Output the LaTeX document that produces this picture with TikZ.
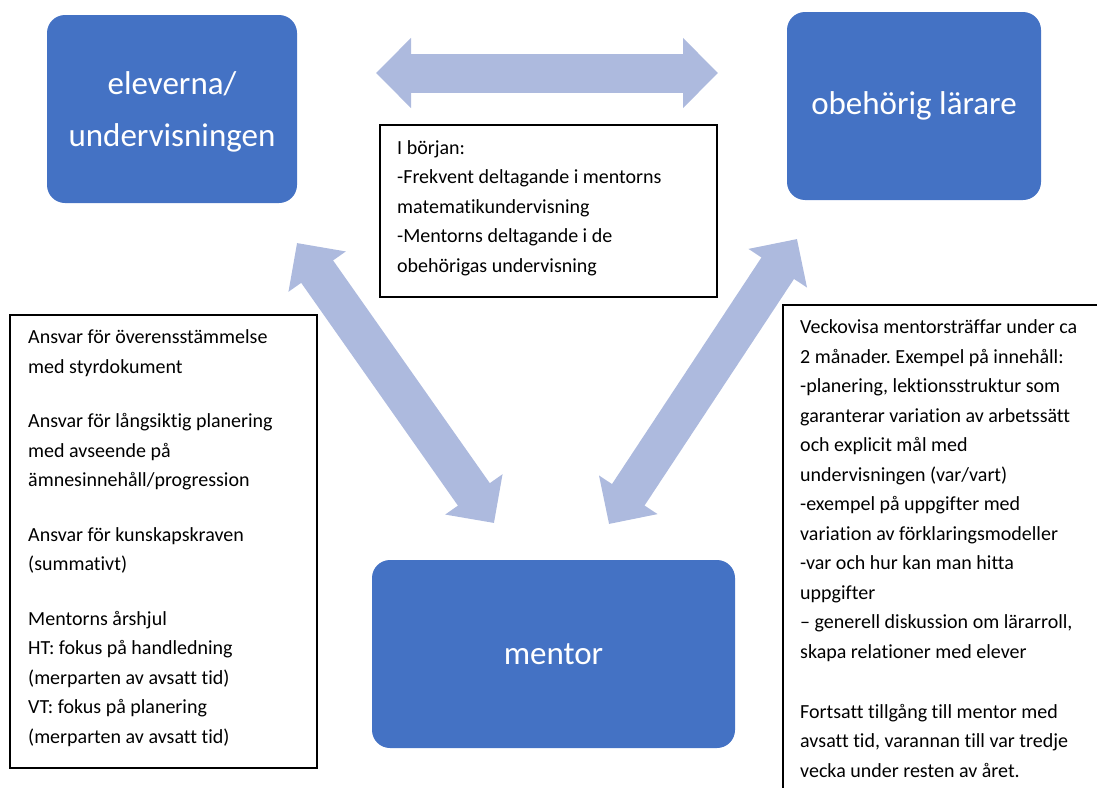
\documentclass[tikz,border=0pt]{standalone}
\usepackage{fontspec}
\setmainfont[Ligatures=NoCommon]{Carlito}
\usetikzlibrary{arrows.meta}
\definecolor{boxblue}{RGB}{68,114,196}
\definecolor{arrowblue}{RGB}{173,186,222}
\frenchspacing
\begin{document}
\begin{tikzpicture}[x=1pt,y=-1pt,
  rolebox/.style={fill=boxblue, rounded corners=18pt, text=white, align=center,
    inner sep=0pt, font=\fontsize{33}{52}\selectfont},
  infobox/.style={draw=black, line width=1.7pt},
  infotext/.style={anchor=base west, align=left, inner sep=0pt,
    font=\fontsize{20}{29.5}\selectfont},
  bigarrow/.style={draw=arrowblue, line width=39pt,
    {Triangle[length=35pt,width=68pt]}-{Triangle[length=35pt,width=68pt]}}
]
\useasboundingbox (0,0) rectangle (1097,787);
\clip (0,0) rectangle (1097,787);

% role boxes
\node[rolebox, minimum width=250pt, minimum height=188pt] (elev) at (172,109) {};
\node[text=white, align=center, inner sep=0pt, font=\fontsize{33}{52}\selectfont] (elevt) at (172,112) {eleverna/\\undervisningen};
\node[rolebox, minimum width=254pt, minimum height=188pt] (obeh) at (914,106) {obehörig lärare};
\node[rolebox, minimum width=363pt, minimum height=188pt] (ment) at (553.5,654) {mentor};

% arrow end points
\coordinate (h1) at (376,73);
\coordinate (h2) at (718,73);
\coordinate (l1) at (297,243);
\coordinate (l2) at (494,523);
\coordinate (r1) at (797,239);
\coordinate (r2) at (609,524);

\draw[bigarrow] (h1) -- (h2);
\draw[bigarrow] (l1) -- (l2);
\draw[bigarrow] (r1) -- (r2);

% info frames
\draw[infobox] (380,125) rectangle (717,297);
\draw[infobox] (10,315) rectangle (317,768);
\draw[infobox] (783,305) rectangle (1110,800);

% text nodes: anchored at the baseline of their last line
\node[infotext] (topt) at (397,272) {I början:\\
-Frekvent deltagande i mentorns\\
matematikundervisning\\
-Mentorns deltagande i de\\
obehörigas undervisning};

\node[infotext] (leftt) at (28,743) {Ansvar för överensstämmelse\\
med styrdokument\\[25pt]
Ansvar för långsiktig planering\\
med avseende på\\
ämnesinnehåll/progression\\[25pt]
Ansvar för kunskapskraven\\
(summativt)\\[25pt]
Mentorns årshjul\\
HT: fokus på handledning\\
(merparten av avsatt tid)\\
VT: fokus på planering\\
(merparten av avsatt tid)};

\node[infotext] (rightt) at (800,777) {Veckovisa mentorsträffar under ca\\
2 månader. Exempel på innehåll:\\
-planering, lektionsstruktur som\\
garanterar variation av arbetssätt\\
och explicit mål med\\
undervisningen (var/vart)\\
-exempel på uppgifter med\\
variation av förklaringsmodeller\\
-var och hur kan man hitta\\
uppgifter\\
– generell diskussion om lärarroll,\\
skapa relationer med elever\\[30.5pt]
Fortsatt tillgång till mentor med\\
avsatt tid, varannan till var tredje\\
vecka under resten av året.};
\end{tikzpicture}
\end{document}
